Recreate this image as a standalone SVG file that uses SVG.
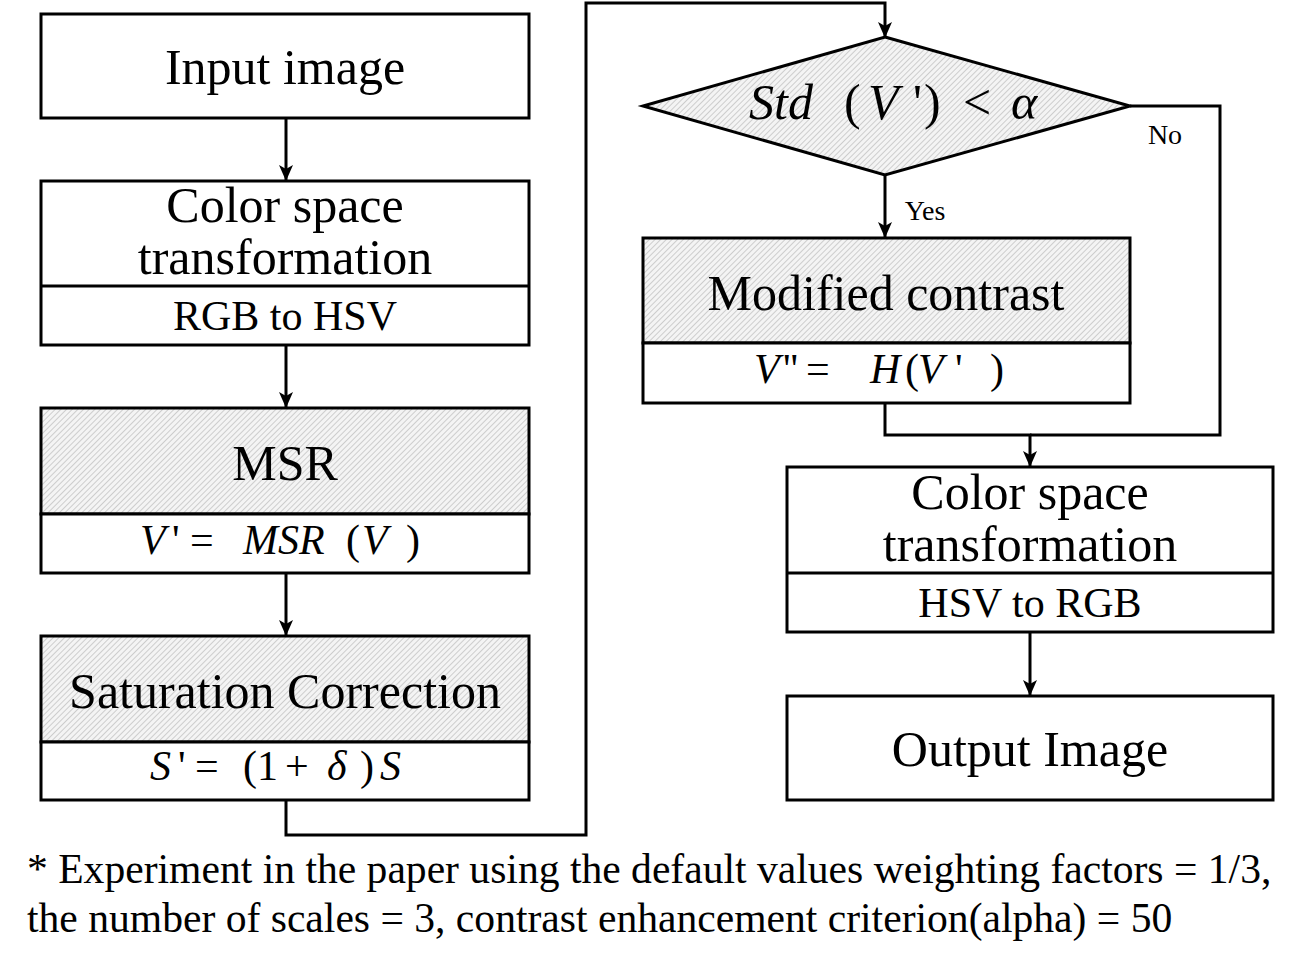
<svg xmlns="http://www.w3.org/2000/svg" width="1314" height="970" viewBox="0 0 1314 970">
<style>
.box{fill:#fff;stroke:#000;stroke-width:3}
.hatch{fill:url(#hatch);stroke:#000;stroke-width:3}
.div{stroke:#000;stroke-width:3}
.conn{fill:none;stroke:#000;stroke-width:3}
.t{font-family:"Liberation Serif","Times New Roman",serif;fill:#000;text-anchor:middle}
.m{font-family:"Liberation Serif","Times New Roman",serif;fill:#000;font-size:42px}
.big{font-size:50px}
.mid{font-size:42px}
.small{font-size:28px}
.note{font-family:"Liberation Serif","Times New Roman",serif;font-size:41.6px;fill:#000}
.i{font-style:italic}
.dm{font-size:50px}
</style>
<defs>
<pattern id="hatch" patternUnits="userSpaceOnUse" width="4" height="4" patternTransform="rotate(45)">
<rect width="4" height="4" fill="#f4f4f4"/>
<line x1="0" y1="0" x2="0" y2="4" stroke="#c4c4c4" stroke-width="1.6"/>
</pattern>
<marker id="arr" viewBox="0 0 16 14" refX="15" refY="7" markerWidth="16" markerHeight="14" orient="auto" markerUnits="userSpaceOnUse" preserveAspectRatio="none">
<path d="M0,0 L16,7 L0,14 L4,7 z" fill="#000"/>
</marker>
</defs>

<g id="connectors">
<line class="conn" x1="286" y1="118" x2="286" y2="180" marker-end="url(#arr)"/>
<line class="conn" x1="286" y1="345" x2="286" y2="407" marker-end="url(#arr)"/>
<line class="conn" x1="286" y1="573" x2="286" y2="635" marker-end="url(#arr)"/>
<path class="conn" d="M286,800 V835 H586 V3 H885 V37" marker-end="url(#arr)"/>
<line class="conn" x1="885" y1="175" x2="885" y2="237" marker-end="url(#arr)"/>
<path class="conn" d="M1130,106 H1220 V435 H1030"/>
<path class="conn" d="M885,403 V435 H1030 V466" marker-end="url(#arr)"/>
<line class="conn" x1="1030" y1="632" x2="1030" y2="695" marker-end="url(#arr)"/>
<text class="t small" x="925" y="220">Yes</text>
<text class="t small" x="1165" y="144">No</text>
</g>

<g id="input">
<rect class="box" x="41" y="14" width="488" height="104"/>
<text class="t big" x="285" y="84">Input image</text>
</g>

<g id="cst1">
<rect class="box" x="41" y="181" width="488" height="164"/>
<line class="div" x1="41" y1="286" x2="529" y2="286"/>
<text class="t big" x="285" y="222">Color space</text>
<text class="t big" x="285" y="274">transformation</text>
<text class="t mid" x="285" y="330">RGB to HSV</text>
</g>

<g id="msr">
<rect class="hatch" x="41" y="408" width="488" height="106"/>
<rect class="box" x="41" y="514" width="488" height="59"/>
<text class="t big" x="285" y="480">MSR</text>
<text class="m" y="554"><tspan class="i" x="140">V</tspan><tspan x="172">'</tspan><tspan x="190">=</tspan><tspan class="i" x="243">MSR</tspan><tspan x="346">(</tspan><tspan class="i" x="362">V</tspan><tspan x="406">)</tspan></text>
</g>

<g id="sat">
<rect class="hatch" x="41" y="636" width="488" height="106"/>
<rect class="box" x="41" y="742" width="488" height="58"/>
<text class="t big" x="285" y="708">Saturation Correction</text>
<text class="m" y="780"><tspan class="i" x="150">S</tspan><tspan x="178">'</tspan><tspan x="195">=</tspan><tspan x="243">(1</tspan><tspan x="285">+</tspan><tspan class="i" x="327">δ</tspan><tspan x="360">)</tspan><tspan class="i" x="380">S</tspan></text>
</g>

<g id="decision">
<polygon class="hatch" points="885,37 1130,106 885,175 643,106" stroke-width="2.5"/>
<text class="m dm" y="119"><tspan class="i" x="749">Std</tspan><tspan x="844">(</tspan><tspan class="i" x="868">V</tspan><tspan x="913">'</tspan><tspan x="924">)</tspan><tspan x="963">&lt;</tspan><tspan class="i" x="1011">α</tspan></text>
</g>

<g id="contrast">
<rect class="hatch" x="643" y="238" width="487" height="105"/>
<rect class="box" x="643" y="343" width="487" height="60"/>
<text class="t big" x="886" y="310">Modified contrast</text>
<text class="m" y="383"><tspan class="i" x="754">V</tspan><tspan x="783">''</tspan><tspan x="806">=</tspan><tspan class="i" x="870">H</tspan><tspan x="905">(</tspan><tspan class="i" x="918">V</tspan><tspan x="955">'</tspan><tspan x="990">)</tspan></text>
</g>

<g id="cst2">
<rect class="box" x="787" y="467" width="486" height="165"/>
<line class="div" x1="787" y1="573" x2="1273" y2="573"/>
<text class="t big" x="1030" y="509">Color space</text>
<text class="t big" x="1030" y="561">transformation</text>
<text class="t mid" x="1030" y="617">HSV to RGB</text>
</g>

<g id="output">
<rect class="box" x="787" y="696" width="486" height="104"/>
<text class="t big" x="1030" y="766">Output Image</text>
</g>

<g id="footnote">
<text class="note" x="27" y="883">* Experiment in the paper using the default values weighting factors = 1/3,</text>
<text class="note" x="27" y="932">the number of scales = 3, contrast enhancement criterion(alpha) = 50</text>
</g>
</svg>
